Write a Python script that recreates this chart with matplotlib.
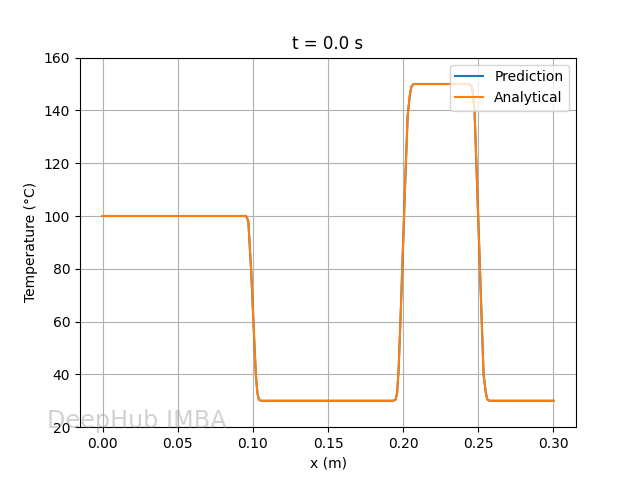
import matplotlib
matplotlib.use("Agg")
import matplotlib.pyplot as plt

# Profil de température à t = 0
x_m = [0.0, 0.0955, 0.097, 0.098, 0.099, 0.100, 0.101, 0.102, 0.103, 0.104, 0.1055,
       0.1935, 0.1950, 0.1960, 0.1970, 0.1985, 0.2000, 0.2015, 0.2030, 0.2045, 0.2055, 0.2070,
       0.2440, 0.2455, 0.2465, 0.2475, 0.2490, 0.2505, 0.2520, 0.2535, 0.2550, 0.2560, 0.2575,
       0.30]
temp_analytical = [100, 100, 98, 88, 78, 65, 52, 40, 33, 30.5, 30,
                   30, 30.5, 33, 42, 65, 90, 115, 138, 146, 149, 150,
                   150, 149, 146, 140, 115, 90, 65, 40, 33, 30.5, 30,
                   30]
temp_prediction = list(temp_analytical)

fig, ax = plt.subplots(figsize=(6.4, 4.8), dpi=100)
ax.plot(x_m, temp_prediction, label='Prediction')
ax.plot(x_m, temp_analytical, label='Analytical')
ax.set_ylim(20, 160)
ax.set_title('t = 0.0 s')
ax.set_xlabel('x (m)')
ax.set_ylabel('Temperature (°C)')
ax.grid()
ax.legend(loc='upper right')

# filigrane
fig.text(47 / 640, 52 / 480, 'DeepHub IMBA', fontsize=17.2, color='gray', alpha=0.35)

fig.savefig('out.png')
